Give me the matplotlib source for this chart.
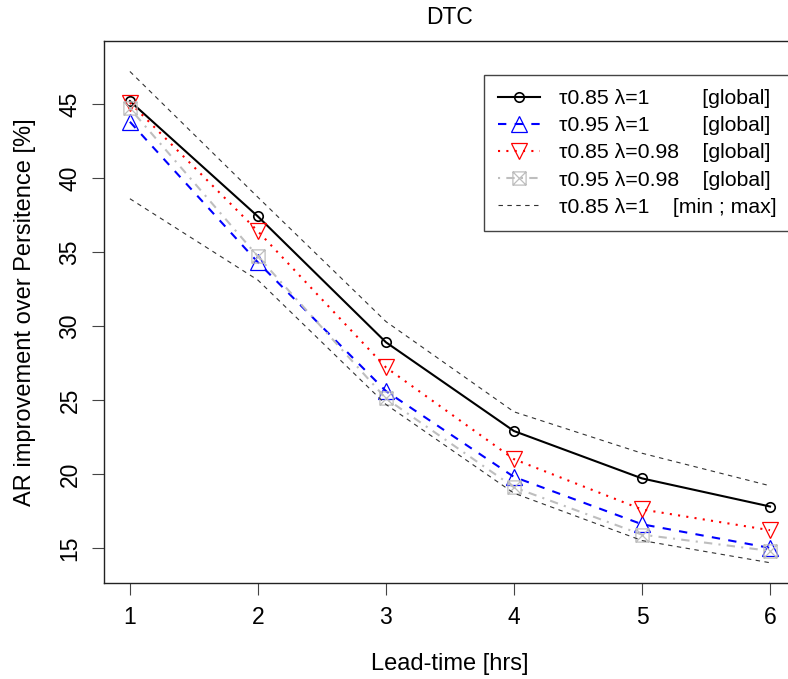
import matplotlib
matplotlib.use("Agg")
import matplotlib.pyplot as plt
from matplotlib.path import Path
from matplotlib.markers import MarkerStyle

plt.rcParams['font.family'] = ['Liberation Sans', 'DejaVu Sans']

lead_time = [1, 2, 3, 4, 5, 6]
tau085_lam1 = [45.2, 37.4, 28.9, 22.9, 19.7, 17.8]
tau095_lam1 = [43.8, 34.3, 25.6, 19.8, 16.6, 15.0]
tau085_lam098 = [45.1, 36.4, 27.2, 21.0, 17.6, 16.2]
tau095_lam098 = [44.7, 34.7, 25.1, 19.1, 15.9, 14.8]
tau085_lam1_max = [47.2, 38.7, 30.3, 24.2, 21.4, 19.2]
tau085_lam1_min = [38.6, 33.1, 24.7, 18.7, 15.5, 14.0]

labels = ["\u03c40.85 \u03bb=1         [global]",
          "\u03c40.95 \u03bb=1         [global]",
          "\u03c40.85 \u03bb=0.98    [global]",
          "\u03c40.95 \u03bb=0.98    [global]",
          "\u03c40.85 \u03bb=1    [min ; max]"]
xticks = [1, 2, 3, 4, 5, 6]
yticks = [15, 20, 25, 30, 35, 40, 45]

# square with an X (R pch=7)
sqx = Path([(-1, -1), (1, -1), (1, 1), (-1, 1), (-1, -1), (1, 1), (-1, 1), (1, -1)],
           [Path.MOVETO, Path.LINETO, Path.LINETO, Path.LINETO, Path.LINETO,
            Path.LINETO, Path.MOVETO, Path.LINETO])

fig = plt.figure(figsize=(7.88, 6.79), dpi=100)
ax = fig.add_axes([104.3 / 788, (679 - 583.3) / 679, (795.6 - 104.3) / 788, (583.3 - 40.7) / 679])

ax.plot(lead_time, tau085_lam1, color='black', lw=1.5, ls='-', marker='o',
        ms=6.8, mfc='none', mec='black', mew=1.2, label=labels[0])
ax.plot(lead_time, tau095_lam1, color='blue', lw=1.5, ls=(0, (4, 4)), marker='^',
        ms=11.5, mfc='none', mec='blue', mew=0.9, label=labels[1])
ax.plot(lead_time, tau085_lam098, color='red', lw=1.5, ls=(0, (1, 3)), marker='v',
        ms=11.5, mfc='none', mec='red', mew=0.9, label=labels[2])
ax.plot(lead_time, tau095_lam098, color='#BEBEBE', lw=1.5, ls=(0, (1, 3, 4, 3)),
        marker=MarkerStyle(sqx), ms=9.5, mfc='none', mec='#BEBEBE', mew=0.9, label=labels[3])
ax.plot(lead_time, tau085_lam1_max, color='#333333', lw=0.8, ls=(0, (4, 4)), label=labels[4])
ax.plot(lead_time, tau085_lam1_min, color='#333333', lw=0.8, ls=(0, (4, 4)))

ax.set_xlim(0.8, 6.2)
ax.set_ylim(12.61, 49.28)
ax.set_xticks(xticks)
ax.set_yticks(yticks)
ax.tick_params(axis='both', direction='out', length=8.5, width=0.8, color='#444444',
               labelsize=16.5, pad=8)
for lbl in ax.get_yticklabels():
    lbl.set_rotation(90)
    lbl.set_va('center')
for sp in ax.spines.values():
    sp.set_linewidth(1.0)
    sp.set_color('#222222')

ax.set_title("DTC", fontsize=16.5, pad=12)
ax.set_xlabel("Lead-time [hrs]", fontsize=17, labelpad=17)
ax.set_ylabel("AR improvement over Persitence [%]", fontsize=17, labelpad=16)

leg = ax.legend(loc='upper left', bbox_to_anchor=(0.549, 0.937), fontsize=15.3,
                frameon=True, fancybox=False, edgecolor='#444444', framealpha=1,
                handlelength=1.95, handletextpad=0.9, labelspacing=0.38,
                borderpad=0.68, borderaxespad=0)
leg.get_frame().set_linewidth(1.0)

fig.savefig("out.png", dpi=100)
